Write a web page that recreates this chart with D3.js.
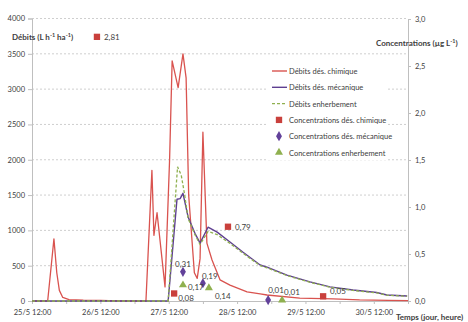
<!DOCTYPE html>
<html><head><meta charset="utf-8">
<script src="https://cdn.jsdelivr.net/npm/d3@7"></script>
<style>
html,body{margin:0;padding:0;background:#fff;}
svg{display:block;}
text{font-family:Lato,sans-serif;fill:#404040;}
</style></head><body>
<svg id="c" width="468" height="322"></svg>
<script>
// ---- data (hours since 25/5 12:00) ----
const chimHours = [0,5.5,7.7,8.7,9.6,10.8,13,18,24,30,36,40,42.1,42.8,43.9,46.7,48.3,49.2,51.3,53,54.1,55,57,58,59,60,61.4,63.2,66,69.5,75.5,80.1,82.5,94,105.7,115,125,132];
const chimFlow  = [0,0,880,400,150,50,20,12,8,3,0,0,1850,930,1250,200,2000,3400,3020,3500,3160,1500,400,320,600,2390,820,580,300,225,130,100,85,42,30,15,10,5];
const mecaHours = [0,47.8,50.9,52,53,54.8,57.2,59,61.8,65,69.5,74.1,80.1,82.5,89.5,97.6,104.6,112.7,121,124.6,131.7];
const mecaFlow  = [0,0,1440,1450,1525,1190,960,820,1045,975,835,690,510,480,367,270,200,155,120,85,70];
const enhHours  = [0,47.8,51.1,52.4,53.5,54.8,57.2,59,61.8,65,69.5,74.1,80.1,82.5,89.5,97.6,104.6,112.7,121,124.6,131.7];
const enhFlow   = [0,0,1900,1780,1525,1170,940,800,985,940,815,675,500,470,360,265,195,150,115,82,68];
const concChimHours = [22.8,49.9,68.8,102.2];
const concChim      = [2.81,0.08,0.79,0.05];
const concMecaHours = [53.0,60.0,82.9];
const concMeca      = [0.31,0.19,0.01];
const concEnhHours  = [53.0,62.1,87.8];
const concEnh       = [0.17,0.14,0.01];
const flowTicks = [0,500,1000,1500,2000,2500,3000,3500,4000];
const concTicks = [0,0.5,1.0,1.5,2.0,2.5,3.0];
const legendLabels = ["Débits dés. chimique","Débits dés. mécanique","Débits enherbement","Concentrations dés. chimique","Concentrations dés. mécanique","Concentrations enherbement"];

// label placement (style, not data)
const chimLab = [[7,3,"start"],[4,8,"start"],[7,3,"start"],[7,-2,"start"]];
const mecaLab = [[0,-5,"middle"],[-1,-4,"start"],[0,-7,"start"]];
const enhLab  = [[5,5,"start"],[6,11,"start"],[2,-5,"start"]];

const RED="#d9534f", PURPLE="#5e3f91", GREEN="#8fb04f";
const REDM="#c9403c", PURM="#62419a", GRM="#8fb04f";
const FONT = "Lato,sans-serif";

const svg = d3.select("#c");
const start = new Date(2012,4,25,12);
const toDate = h => new Date(start.getTime()+h*3600e3);
const x = d3.scaleTime().domain([start, toDate(132)]).range([32,408]);
const yL = d3.scaleLinear().domain([0,4000]).range([301,18.5]);
const yR = d3.scaleLinear().domain([0,3]).range([301,19]);

// gridlines
svg.append("g").selectAll("line").data(flowTicks.filter(d=>d>0)).join("line")
  .attr("x1",32).attr("x2",408).attr("y1",d=>yL(d)).attr("y2",d=>yL(d))
  .attr("stroke","#cfcfcf").attr("stroke-width",1).attr("stroke-dasharray","2,2");

// axes
const fsz = "7.5px";
const gL = svg.append("g").attr("transform","translate(32,0)")
  .call(d3.axisLeft(yL).tickValues(flowTicks).tickSize(4).tickPadding(3).tickFormat(d3.format("d")));
const gR = svg.append("g").attr("transform","translate(408,0)")
  .call(d3.axisRight(yR).tickValues(concTicks).tickSize(3).tickPadding(4).tickFormat(d=>d3.format(".1f")(d).replace(".",",")));
const xTicks = d3.range(0,133,12).map(toDate);
const gX = svg.append("g").attr("transform","translate(0,301)")
  .call(d3.axisBottom(x).tickValues(xTicks).tickSize(3).tickPadding(6)
    .tickFormat(d=> d.getHours()===12 ? d3.timeFormat("%-d/%-m %H:%M")(d) : ""));
[gL,gR,gX].forEach(g=>{
  g.select(".domain").attr("stroke","#bfbfbf");
  g.selectAll(".tick line").attr("stroke","#bfbfbf");
  g.selectAll("text").style("font-size",fsz).attr("fill","#404040").style("font-family",FONT);
});

// lines
const mk = (hs,vs)=>hs.map((h,i)=>[toDate(h),vs[i]]);
const line = d3.line().x(d=>x(d[0])).y(d=>yL(d[1]));
svg.append("path").datum(mk(chimHours,chimFlow)).attr("d",line)
  .attr("fill","none").attr("stroke",RED).attr("stroke-width",1.3).attr("stroke-linejoin","round");
svg.append("path").datum(mk(mecaHours,mecaFlow)).attr("d",line)
  .attr("fill","none").attr("stroke",PURPLE).attr("stroke-width",1.4).attr("stroke-linejoin","round");
svg.append("path").datum(mk(enhHours,enhFlow)).attr("d",line)
  .attr("fill","none").attr("stroke",GREEN).attr("stroke-width",1.3).attr("stroke-dasharray","3,2");

// markers
const sq = d3.symbol().type(d3.symbolSquare).size(40);
const dm = d3.symbol().type(d3.symbolDiamond).size(30);
const tr = d3.symbol().type(d3.symbolTriangle).size(28);
function pts(hs,vs,sym,col,lab){
  const g = svg.append("g");
  hs.forEach((h,i)=>{
    const px=x(toDate(h)), py=yR(vs[i]);
    g.append("path").attr("d",sym()).attr("transform",`translate(${px},${py})`).attr("fill",col);
    g.append("text").attr("x",px+lab[i][0]).attr("y",py+lab[i][1]).attr("text-anchor",lab[i][2])
      .style("font-size","8px").text(d3.format(".2f")(vs[i]).replace(".",","));
  });
}
pts(concChimHours,concChim,sq,REDM,chimLab);
pts(concMecaHours,concMeca,dm,PURM,mecaLab);
pts(concEnhHours,concEnh,tr,GRM,enhLab);

// titles
const TS="8px", SS="5.5px";
const t1 = svg.append("text").attr("x",12).attr("y",40).style("font-size",TS).style("font-weight","bold").attr("fill","#1a1a1a");
t1.append("tspan").text("Débits (L h");
t1.append("tspan").attr("dy",-3).style("font-size",SS).text("-1");
t1.append("tspan").attr("dy",3).text(" ha");
t1.append("tspan").attr("dy",-3).style("font-size",SS).text("-1");
t1.append("tspan").attr("dy",3).text(")");
const t2 = svg.append("text").attr("x",376).attr("y",46).style("font-size",TS).style("font-weight","bold").attr("fill","#1a1a1a");
t2.append("tspan").text("Concentrations (µg L");
t2.append("tspan").attr("dy",-3).style("font-size",SS).text("-1");
t2.append("tspan").attr("dy",3).text(")");
svg.append("text").attr("x",396).attr("y",320).style("font-size",TS).style("font-weight","bold").attr("fill","#1a1a1a")
  .text("Temps (jour, heure)");

// legend
const lg = svg.append("g");
lg.append("rect").attr("x",267).attr("y",61).attr("width",121).attr("height",99).attr("fill","#fff");
const ly = i=>71+i*16.3;
const lstyles = [[RED,null],[PURPLE,null],[GREEN,"3,2"]];
lstyles.forEach((s,i)=>{
  lg.append("line").attr("x1",272).attr("x2",287).attr("y1",ly(i)).attr("y2",ly(i))
    .attr("stroke",s[0]).attr("stroke-width",1.4).attr("stroke-dasharray",s[1]);
});
[[sq,REDM],[dm,PURM],[tr,GRM]].forEach((s,j)=>{
  lg.append("path").attr("d",s[0]()).attr("transform",`translate(279,${ly(j+3)})`).attr("fill",s[1]);
});
legendLabels.forEach((t,i)=>{
  lg.append("text").attr("x",289).attr("y",ly(i)+3).style("font-size","7.5px").text(t);
});
</script>
</body></html>
